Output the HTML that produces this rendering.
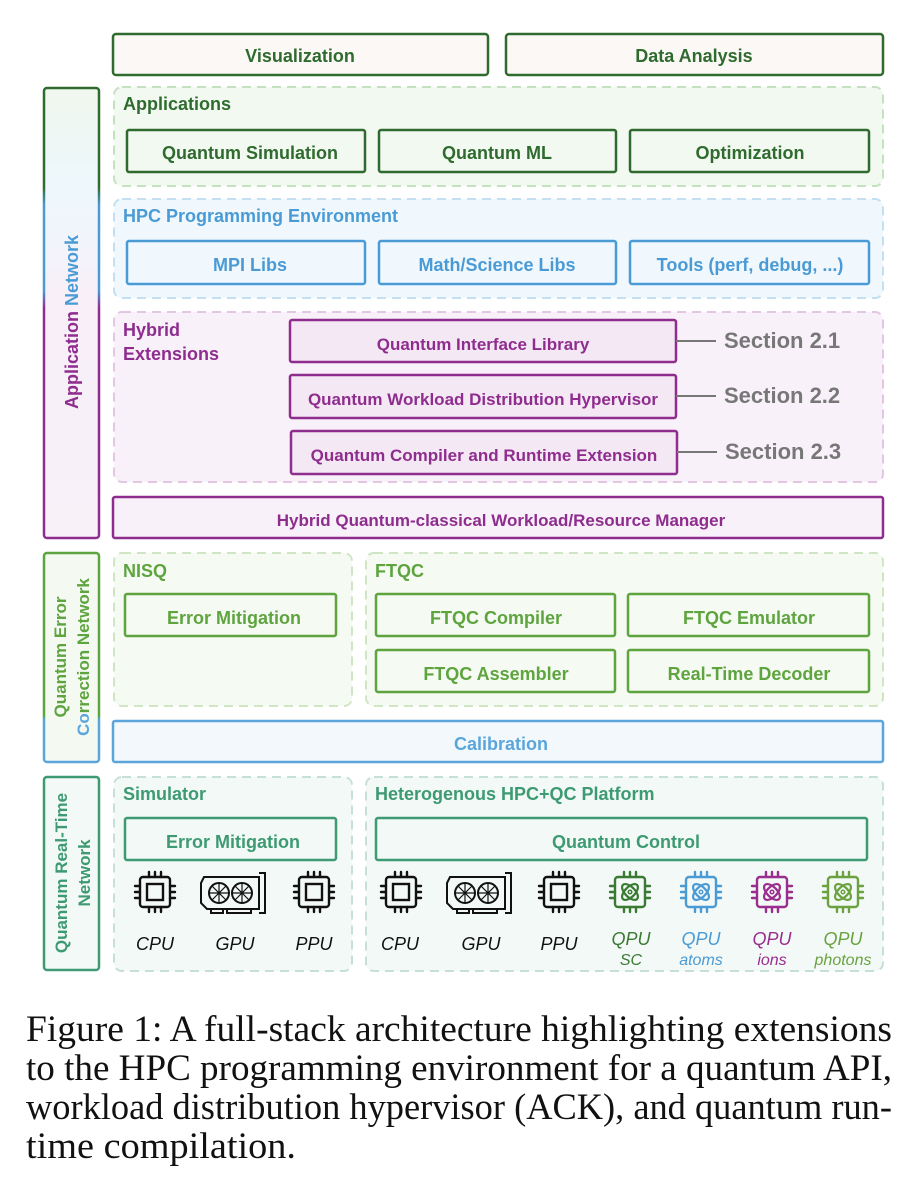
<!DOCTYPE html>
<html><head><meta charset="utf-8"><style>
html,body{margin:0;padding:0;background:#fff;}
svg{display:block;}
</style></head><body>
<svg width="913" height="1200" viewBox="0 0 913 1200" xmlns="http://www.w3.org/2000/svg" font-family="Liberation Sans, sans-serif">
<defs>
<linearGradient id="gApp" gradientUnits="userSpaceOnUse" x1="0" y1="88" x2="0" y2="538">
<stop offset="0" stop-color="#2f6b2f"/><stop offset="0.22" stop-color="#2f6b2f"/><stop offset="0.26" stop-color="#4a9bd5"/><stop offset="0.45" stop-color="#4a9bd5"/><stop offset="0.49" stop-color="#8e2d8e"/><stop offset="1" stop-color="#8e2d8e"/>
</linearGradient>
<linearGradient id="fApp" gradientUnits="userSpaceOnUse" x1="0" y1="88" x2="0" y2="538">
<stop offset="0" stop-color="#eff7ee"/><stop offset="0.24" stop-color="#eef7fd"/><stop offset="0.47" stop-color="#f8eff8"/><stop offset="1" stop-color="#f8f1f8"/>
</linearGradient>
<linearGradient id="gQec" gradientUnits="userSpaceOnUse" x1="0" y1="552" x2="0" y2="762">
<stop offset="0" stop-color="#5ea43f"/><stop offset="0.78" stop-color="#5ea43f"/><stop offset="0.80" stop-color="#5aa6dc"/><stop offset="1" stop-color="#5aa6dc"/>
</linearGradient>
<g id="chip" fill="none" stroke-width="2.4" stroke-linecap="round">
<rect x="8" y="8" width="30" height="30" rx="3"/>
<path d="M17 8V3M23 8V3M29 8V3M17 38V43M23 38V43M29 38V43M8 17H3M8 23H3M8 29H3M38 17H43M38 23H43M38 29H43"/>
</g>
<g id="cpu"><use href="#chip"/><rect x="15" y="15" width="16" height="16" fill="none" stroke-width="2.4"/></g>
<g id="qpu"><use href="#chip"/><ellipse cx="23" cy="23" rx="10" ry="5" transform="rotate(45 23 23)" fill="none" stroke-width="2.2"/><ellipse cx="23" cy="23" rx="10" ry="5" transform="rotate(-45 23 23)" fill="none" stroke-width="2.2"/><circle cx="23" cy="23" r="1.8" fill="none" stroke-width="1.5"/></g>
<g id="gpu" fill="none" stroke="#111" stroke-width="2">
<path d="M5 6H60V38H8L2 32V12Z"/>
<path d="M60 2H66V42H60"/>
<circle cx="20" cy="22" r="10"/><circle cx="43" cy="22" r="10"/>
<path d="M20 12L20 32M10 22L30 22M13 15L27 29M27 15L13 29M43 12L43 32M33 22L53 22M36 15L50 29M50 15L36 29" stroke-width="1.2"/>
<path d="M12 38V42H24V38M28 38V42H52V38"/>
</g>
</defs>

<g font-weight="bold">
<rect x="113" y="34" width="375" height="41" rx="3" fill="#fcf8f6" stroke="#2f6b2f" stroke-width="2.5"/>
<text x="300" y="62" text-anchor="middle" font-size="18" fill="#2f6b2f">Visualization</text>
<rect x="506" y="34" width="377" height="41" rx="3" fill="#fcf8f6" stroke="#2f6b2f" stroke-width="2.5"/>
<text x="694" y="62" text-anchor="middle" font-size="18" fill="#2f6b2f">Data Analysis</text>

<rect x="44" y="88" width="55" height="450" rx="3" fill="url(#fApp)" stroke="url(#gApp)" stroke-width="2.5"/>
<text transform="translate(78 322) rotate(-90)" text-anchor="middle" font-size="18"><tspan fill="#8e2d8e">Application </tspan><tspan fill="#4a9bd5">Network</tspan></text>

<rect x="114" y="87" width="769" height="99" rx="8" fill="#f2f9f0" stroke="#c4e2bf" stroke-width="2" stroke-dasharray="9 6"/>
<text x="123" y="110" font-size="18" fill="#2f6b2f">Applications</text>
<g fill="#f2f9f0" stroke="#2f6b2f" stroke-width="2.5">
<rect x="127" y="130" width="238" height="42" rx="2"/><rect x="379" y="130" width="237" height="42" rx="2"/><rect x="630" y="130" width="239" height="42" rx="2"/></g>
<g font-size="18" fill="#2f6b2f" text-anchor="middle"><text x="250" y="159">Quantum Simulation</text><text x="497" y="159">Quantum ML</text><text x="750" y="159">Optimization</text></g>

<rect x="114" y="199" width="769" height="99" rx="8" fill="#f0f8fd" stroke="#c3e0f3" stroke-width="2" stroke-dasharray="9 6"/>
<text x="123" y="222" font-size="18" fill="#4a9bd5">HPC Programming Environment</text>
<g fill="#f0f8fd" stroke="#4a9bd5" stroke-width="2.5">
<rect x="127" y="241" width="238" height="43" rx="2"/><rect x="379" y="241" width="237" height="43" rx="2"/><rect x="630" y="241" width="239" height="43" rx="2"/></g>
<g font-size="18" fill="#4a9bd5" text-anchor="middle"><text x="250" y="271">MPI Libs</text><text x="497" y="271">Math/Science Libs</text><text x="750" y="271">Tools (perf, debug, ...)</text></g>

<rect x="114" y="312" width="769" height="170" rx="8" fill="#f9f1f9" stroke="#e2c6e2" stroke-width="2" stroke-dasharray="9 6"/>
<text x="123" y="336" font-size="18" fill="#8e2d8e">Hybrid</text>
<text x="123" y="360" font-size="18" fill="#8e2d8e">Extensions</text>
<g fill="#f5e8f5" stroke="#8e2d8e" stroke-width="2.5">
<rect x="290" y="320" width="386" height="42" rx="2"/><rect x="290" y="375" width="386" height="43" rx="2"/><rect x="291" y="431" width="386" height="43" rx="2"/></g>
<g font-size="17" fill="#8e2d8e" text-anchor="middle"><text x="483" y="350">Quantum Interface Library</text><text x="483" y="405">Quantum Workload Distribution Hypervisor</text><text x="484" y="461">Quantum Compiler and Runtime Extension</text></g>
<g stroke="#777" stroke-width="2"><path d="M676 341H716M676 396H716M677 452H717"/></g>
<g font-size="22" fill="#777"><text x="724" y="348">Section 2.1</text><text x="724" y="403">Section 2.2</text><text x="725" y="459">Section 2.3</text></g>

<rect x="113" y="497" width="770" height="41" rx="2" fill="#f9f1f9" stroke="#8e2d8e" stroke-width="2.5"/>
<text x="501" y="526" text-anchor="middle" font-size="17" fill="#8e2d8e">Hybrid Quantum-classical Workload/Resource Manager</text>

<rect x="44" y="553" width="55" height="209" rx="3" fill="#f4f9f1" stroke="url(#gQec)" stroke-width="2.5"/>
<text transform="translate(66 657) rotate(-90)" text-anchor="middle" font-size="17" fill="#5ea43f">Quantum Error</text>
<text transform="translate(89 657) rotate(-90)" text-anchor="middle" font-size="17"><tspan fill="#5aa6dc">Co</tspan><tspan fill="#5ea43f">rrection Network</tspan></text>

<rect x="114" y="553" width="238" height="153" rx="8" fill="#f5faf2" stroke="#cfe5c4" stroke-width="2" stroke-dasharray="9 6"/>
<text x="123" y="577" font-size="18" fill="#5ea43f">NISQ</text>
<rect x="125" y="594" width="211" height="42" rx="2" fill="#f5faf2" stroke="#5ea43f" stroke-width="2.5"/>
<text x="234" y="624" text-anchor="middle" font-size="18" fill="#5ea43f">Error Mitigation</text>

<rect x="366" y="553" width="517" height="153" rx="8" fill="#f5faf2" stroke="#cfe5c4" stroke-width="2" stroke-dasharray="9 6"/>
<text x="375" y="577" font-size="18" fill="#5ea43f">FTQC</text>
<g fill="#f5faf2" stroke="#5ea43f" stroke-width="2.5">
<rect x="376" y="594" width="239" height="42" rx="2"/><rect x="628" y="594" width="241" height="42" rx="2"/>
<rect x="376" y="650" width="239" height="42" rx="2"/><rect x="628" y="650" width="241" height="42" rx="2"/></g>
<g font-size="18" fill="#5ea43f" text-anchor="middle"><text x="496" y="624">FTQC Compiler</text><text x="749" y="624">FTQC Emulator</text><text x="496" y="680">FTQC Assembler</text><text x="749" y="680">Real-Time Decoder</text></g>

<rect x="113" y="721" width="770" height="41" rx="2" fill="#f2f8fc" stroke="#5aa6dc" stroke-width="2.5"/>
<text x="501" y="750" text-anchor="middle" font-size="18" fill="#5aa6dc">Calibration</text>

<rect x="44" y="777" width="55" height="193" rx="3" fill="#f2f9f6" stroke="#3d9a72" stroke-width="2.5"/>
<text transform="translate(67 873) rotate(-90)" text-anchor="middle" font-size="17" fill="#3d9a72">Quantum Real-Time</text>
<text transform="translate(90 873) rotate(-90)" text-anchor="middle" font-size="17" fill="#3d9a72">Network</text>

<rect x="114" y="777" width="238" height="194" rx="8" fill="#f3f9f7" stroke="#c6e0d6" stroke-width="2" stroke-dasharray="9 6"/>
<text x="123" y="800" font-size="18" fill="#3d9a72">Simulator</text>
<rect x="125" y="818" width="211" height="42" rx="2" fill="#f3f9f7" stroke="#3d9a72" stroke-width="2.5"/>
<text x="233" y="848" text-anchor="middle" font-size="18" fill="#3d9a72">Error Mitigation</text>

<rect x="366" y="777" width="517" height="194" rx="8" fill="#f3f9f7" stroke="#c6e0d6" stroke-width="2" stroke-dasharray="9 6"/>
<text x="375" y="800" font-size="18" fill="#3d9a72">Heterogenous HPC+QC Platform</text>
<rect x="376" y="818" width="491" height="42" rx="2" fill="#f3f9f7" stroke="#3d9a72" stroke-width="2.5"/>
<text x="626" y="848" text-anchor="middle" font-size="18" fill="#3d9a72">Quantum Control</text>
</g>

<use href="#cpu" x="132" y="869" stroke="#111"/>
<use href="#gpu" x="199" y="871"/>
<use href="#cpu" x="291" y="869" stroke="#111"/>
<use href="#cpu" x="378" y="869" stroke="#111"/>
<use href="#gpu" x="445" y="871"/>
<use href="#cpu" x="536" y="869" stroke="#111"/>
<use href="#qpu" x="607" y="869" stroke="#3b7a32"/>
<use href="#qpu" x="678" y="869" stroke="#4a9bd5"/>
<use href="#qpu" x="749" y="869" stroke="#9a2d8e"/>
<use href="#qpu" x="820" y="869" stroke="#6aa23f"/>

<g font-size="18" font-style="italic" font-weight="normal" text-anchor="middle">
<text x="155" y="950" fill="#111">CPU</text>
<text x="235" y="950" fill="#111">GPU</text>
<text x="314" y="950" fill="#111">PPU</text>
<text x="400" y="950" fill="#111">CPU</text>
<text x="481" y="950" fill="#111">GPU</text>
<text x="559" y="950" fill="#111">PPU</text>
<text x="631" y="945" fill="#3b7a32">QPU</text>
<text x="631" y="965" fill="#3b7a32" font-size="16">SC</text>
<text x="701" y="945" fill="#4a9bd5">QPU</text>
<text x="701" y="965" fill="#4a9bd5" font-size="16">atoms</text>
<text x="772" y="945" fill="#9a2d8e">QPU</text>
<text x="772" y="965" fill="#9a2d8e" font-size="16">ions</text>
<text x="843" y="945" fill="#6aa23f">QPU</text>
<text x="843" y="965" fill="#6aa23f" font-size="16">photons</text>
</g>

<g style="font-family:'Liberation Serif','Times New Roman',serif" font-weight="normal" font-size="37" fill="#111">
<text x="26" y="1041" textLength="866" lengthAdjust="spacingAndGlyphs">Figure 1: A full-stack architecture highlighting extensions</text>
<text x="26" y="1080" textLength="866" lengthAdjust="spacingAndGlyphs">to the HPC programming environment for a quantum API,</text>
<text x="26" y="1119" textLength="866" lengthAdjust="spacingAndGlyphs">workload distribution hypervisor (ACK), and quantum run-</text>
<text x="26" y="1158" textLength="270" lengthAdjust="spacingAndGlyphs">time compilation.</text>
</g>
</svg>
</body></html>
